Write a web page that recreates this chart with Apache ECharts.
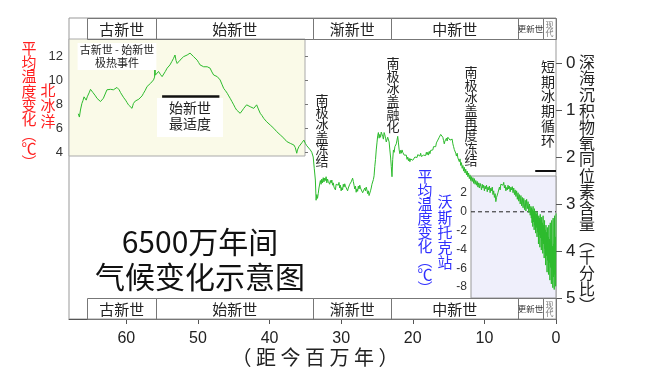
<!DOCTYPE html>
<html><head><meta charset="utf-8">
<style>html,body{margin:0;padding:0;background:#fff;}#c{width:646px;height:388px;}</style>
<script src="https://cdn.jsdelivr.net/npm/echarts@6.0.0/dist/echarts.min.js"></script>
</head><body><div id="c"></div>
<script>
// ---- data ----
const epochNames = ['古新世','始新世','渐新世','中新世','更新世','现代'];
const epochStarts = [65.5, 55.8, 33.9, 23.0, 5.3, 1.8];
const epochEnds = [55.8, 33.9, 23.0, 5.3, 1.8, 0];
const ageTicks = [60, 50, 40, 30, 20, 10, 0];
const d18OTicks = [0, 1, 2, 3, 4, 5];
const arcticTempTicks = [4, 6, 8, 10, 12];
const vostokTempTicks = [2, 0, -2, -4, -6, -8];
// annotation bars [startAge, endAge, d18O level]
const eoceneOptimumBar = [55.0, 47.0, 0.70];
const glacialCycleBar = [2.9, 0, 2.30];
// deep-sea d18O record [age Ma, permil]
const paleoEocene = [
[66.7,1.08],[66.55,1.15],[66.4,1.00],[66.2,0.86],[66.05,0.80],[65.9,0.72],[65.75,0.76],[65.6,0.79],[65.45,0.72],[65.3,0.68],
[65.15,0.62],[65.0,0.56],[64.9,0.59],[64.8,0.57],[64.65,0.63],[64.55,0.645],[64.3,0.70],[64.1,0.75],[63.85,0.79],[63.6,0.82],
[63.4,0.78],[63.2,0.75],[62.95,0.66],[62.7,0.57],[62.45,0.59],[62.2,0.56],[62.0,0.60],[61.8,0.57],[61.55,0.54],[61.3,0.52],
[61.15,0.55],[61.0,0.57],[60.8,0.63],[60.6,0.68],[60.35,0.74],[60.1,0.79],[59.9,0.84],[59.7,0.89],[59.45,0.93],[59.2,0.965],
[59.1,0.91],[59.0,0.86],[58.75,0.81],[58.5,0.79],[58.25,0.77],[58.0,0.75],[57.8,0.70],[57.6,0.645],[57.35,0.58],[57.1,0.50],
[56.85,0.47],[56.6,0.43],[56.4,0.40],[56.2,0.36],[56.05,0.30],[56.0,-0.24],[55.95,0.26],[55.75,0.22],[55.5,0.18],[55.25,0.24],
[55.0,0.29],[54.8,0.255],[54.55,0.18],[54.3,0.11],[54.1,0.08],[53.9,0.04],[53.65,-0.03],[53.4,-0.10],[53.2,-0.17],[53.05,-0.05],
[52.9,0.01],[52.7,-0.03],[52.5,-0.06],[52.25,-0.10],[52.0,-0.135],[51.75,-0.16],[51.5,-0.17],[51.3,-0.19],[51.1,-0.21],[50.85,-0.17],
[50.6,-0.135],[50.35,-0.10],[50.1,-0.06],[49.9,-0.01],[49.7,0.04],[49.45,0.06],[49.2,0.08],[49.0,0.06],[48.7,0.08],[48.5,0.10],
[48.3,0.11],[48.05,0.19],[47.8,0.255],[47.55,0.27],[47.3,0.29],[47.1,0.33],[46.9,0.36],[46.65,0.45],[46.4,0.54],[46.15,0.59],
[45.9,0.645],[45.7,0.70],[45.5,0.75],[45.25,0.82],[45.0,0.89],[44.8,0.95],[44.6,1.00],[44.35,1.04],[44.1,1.07],[43.85,1.02],
[43.6,0.965],[43.4,0.93],[43.2,0.89],[42.95,0.91],[42.7,0.93],[42.45,0.95],[42.2,0.965],[42.0,0.93],[41.8,0.89],[41.5,1.00],
[41.3,1.07],[41.05,1.12],[40.8,1.18],[40.6,1.21],[40.4,1.25],[40.15,1.28],[39.9,1.32],[39.65,1.35],[39.4,1.39],[39.2,1.43],
[39.0,1.46],[38.75,1.50],[38.5,1.53],[38.25,1.57],[38.0,1.60],[37.8,1.64],[37.6,1.67],[37.35,1.69],[37.1,1.71],[36.85,1.73],
[36.6,1.745],[36.4,1.80],[36.2,1.92],[36.1,1.85],[35.9,1.78],[35.7,1.745],[35.45,1.69],[35.3,1.66],[35.2,1.64],[35.0,1.71],
[34.8,1.76],[34.55,1.80],[34.3,1.85],[34.1,1.90],[33.9,2.00],[33.75,2.25],[33.6,2.49]
];
const oligocene = [
[33.5,2.92],[33.4,2.80],[33.3,2.88],[33.2,2.78],[33.1,2.66],[33.0,2.62],[32.9,2.50],[32.8,2.58],[32.7,2.47],[32.6,2.55],
[32.5,2.44],[32.4,2.53],[32.3,2.45],[32.2,2.50],[32.1,2.42],[32.0,2.55],[31.9,2.47],[31.8,2.52],[31.7,2.48],[31.6,2.58],
[31.5,2.50],[31.4,2.55],[31.3,2.49],[31.2,2.60],[31.1,2.55],[31.0,2.64],[30.9,2.60],[30.8,2.70],[30.7,2.58],[30.6,2.62],
[30.5,2.55],[30.4,2.60],[30.3,2.54],[30.2,2.66],[30.1,2.60],[30.0,2.72],[29.9,2.65],[29.8,2.70],[29.7,2.58],[29.6,2.64],
[29.5,2.57],[29.4,2.62],[29.3,2.66],[29.2,2.60],[29.1,2.72],[29.0,2.66],[28.9,2.70],[28.8,2.58],[28.7,2.62],[28.6,2.53],
[28.5,2.50],[28.4,2.45],[28.3,2.52],[28.2,2.60],[28.1,2.68],[28.0,2.62],[27.9,2.75],[27.8,2.68],[27.7,2.73],[27.6,2.62],
[27.5,2.68],[27.4,2.60],[27.3,2.66],[27.2,2.70],[27.1,2.63],[27.0,2.76],[26.9,2.72],[26.8,2.78],[26.7,2.66],[26.6,2.72],
[26.5,2.64],[26.4,2.70],[26.3,2.78],[26.2,2.72],[26.1,2.82],[26.0,2.78],[25.9,2.72],[25.8,2.66],[25.7,2.58],[25.6,2.60],
[25.5,2.48],[25.4,2.40],[25.3,2.20],[25.2,2.05],[25.1,1.85]
];
const earlyMiocene = [
[25.0,1.70],[24.9,1.55],[24.8,1.48],[24.7,1.60],[24.6,1.52],[24.5,1.58],[24.4,1.47],[24.3,1.44],[24.2,1.56],[24.1,1.62],
[24.0,1.48],[23.9,1.53],[23.8,1.60],[23.7,1.68],[23.6,1.72],[23.5,1.58],[23.4,1.55],[23.3,1.68],[23.2,1.85],[23.1,2.00],
[23.0,2.20],[22.9,2.42],[22.8,2.05],[22.7,1.85],[22.6,1.90],[22.5,1.78],[22.4,1.82],[22.3,1.72],[22.2,1.64],[22.1,1.56],
[22.0,1.70],[21.9,1.85],[21.8,1.93],[21.7,1.86],[21.6,1.92],[21.5,1.85],[21.4,1.90],[21.3,1.87],[21.2,1.96],[21.1,1.92],
[21.0,2.00],[20.9,1.96],[20.8,2.05],[20.7,2.00],[20.6,2.08],[20.5,2.03],[20.4,2.10],[20.3,2.04],[20.2,2.08],[20.1,2.02],
[20.0,2.07],[19.9,2.03],[19.8,2.08],[19.7,2.00],[19.6,2.04],[19.5,1.97],[19.4,2.01],[19.3,1.95],[19.2,1.99],[19.1,1.94],
[19.0,1.98],[18.9,1.92],[18.8,1.99],[18.7,1.95],[18.6,2.02],[18.5,1.96],[18.4,2.00],[18.3,1.93],[18.2,1.97],[18.1,1.90],
[18.0,1.95],[17.9,1.90],[17.8,1.96],[17.7,1.88],[17.6,1.93],[17.5,1.86],[17.4,1.88],[17.3,1.82],[17.2,1.85],[17.1,1.78],
[17.0,1.80],[16.9,1.74],[16.8,1.78],[16.7,1.70],[16.6,1.72],[16.5,1.64],[16.4,1.68],[16.3,1.58],[16.2,1.62],[16.1,1.52],
[16.0,1.56],[15.9,1.48],[15.8,1.58],[15.7,1.65],[15.6,1.72],[15.5,1.66],[15.4,1.70],[15.3,1.60],[15.2,1.66],[15.1,1.58],
[15.0,1.62],[14.9,1.56],[14.8,1.64],[14.7,1.60],[14.6,1.66],[14.5,1.62],[14.4,1.72],[14.3,1.78],[14.2,1.84],[14.1,1.88]
];
const lateMiocene = [
[14.0,1.92],[13.9,1.98],[13.8,1.92],[13.7,2.02],[13.6,1.98],[13.5,2.10],[13.4,2.04],[13.3,2.18],[13.2,2.12],[13.1,2.24],
[13.0,2.18],[12.9,2.30],[12.8,2.22],[12.7,2.34],[12.6,2.26],[12.5,2.38],[12.4,2.30],[12.3,2.42],[12.2,2.34],[12.1,2.46],
[12.0,2.38],[11.9,2.50],[11.8,2.42],[11.7,2.52],[11.6,2.44],[11.5,2.56],[11.4,2.46],[11.3,2.58],[11.2,2.50],[11.1,2.60],
[11.0,2.52],[10.9,2.64],[10.8,2.55],[10.7,2.66],[10.6,2.56],[10.5,2.62],[10.4,2.70],[10.3,2.58],[10.2,2.66],[10.1,2.60],
[10.0,2.72],[9.9,2.62],[9.8,2.68],[9.7,2.60],[9.6,2.74],[9.5,2.64],[9.4,2.70],[9.3,2.62],[9.2,2.76],[9.1,2.66],
[9.0,2.72],[8.9,2.64],[8.8,2.80],[8.7,2.72],[8.6,2.86],[8.5,2.78],[8.4,2.95],[8.3,2.86],[8.2,2.90],[8.1,2.76],
[8.0,2.72],[7.9,2.64],[7.8,2.70],[7.7,2.58],[7.6,2.62],[7.5,2.55],[7.4,2.60],[7.3,2.54],[7.2,2.66],[7.1,2.60],
[7.0,2.72],[6.9,2.65],[6.8,2.70],[6.7,2.60],[6.6,2.68],[6.5,2.62],[6.4,2.74],[6.3,2.64],[6.2,2.70],[6.1,2.63],
[6.0,2.76],[5.9,2.66],[5.8,2.80],[5.7,2.70],[5.6,2.84],[5.5,2.72],[5.4,2.90],[5.3,2.76],[5.2,2.94],[5.1,2.80],
[5.0,3.00],[4.9,2.82],[4.8,3.04],[4.7,2.86],[4.6,3.08],[4.5,2.88],[4.4,3.12],[4.3,2.92],[4.2,3.15],[4.1,2.90],
[4.0,3.10],[3.9,2.95],[3.8,3.18],[3.7,3.00],[3.6,3.24],[3.5,3.05]
];
const plioPleistocene = [
[3.45,3.30],[3.40,3.08],[3.35,3.40],[3.30,3.12],[3.25,3.48],[3.20,3.05],[3.15,3.38],[3.10,3.15],[3.05,3.55],[3.00,3.10],
[2.95,3.45],[2.90,3.20],[2.85,3.62],[2.80,3.15],[2.75,3.50],[2.70,3.22],[2.65,3.70],[2.60,3.18],[2.55,3.60],[2.50,3.28],
[2.45,3.85],[2.40,3.25],[2.35,3.66],[2.30,3.30],[2.25,3.92],[2.20,3.22],[2.15,3.72],[2.10,3.35],[2.05,3.98],[2.00,3.28],
[1.95,3.78],[1.90,3.40],[1.85,4.05],[1.80,3.25],[1.75,3.85],[1.70,3.45],[1.65,4.15],[1.60,3.35],[1.55,3.95],[1.50,3.55],
[1.45,4.30],[1.40,3.45],[1.35,4.10],[1.30,3.60],[1.25,4.45],[1.20,3.50],[1.15,4.20],[1.10,3.70],[1.05,4.50],[1.00,3.45],
[0.95,4.25],[0.90,3.75],[0.85,4.62],[0.80,3.40],[0.75,4.35],[0.70,3.80],[0.65,4.70],[0.60,3.35],[0.55,4.40],[0.50,3.90],
[0.45,4.78],[0.40,3.30],[0.35,4.55],[0.30,3.85],[0.25,4.82],[0.20,3.25],[0.15,4.50],[0.10,3.70],[0.05,4.75],[0.00,3.20]
];

// ---- chart ----
const CJK = '"Noto Sans CJK SC", "Noto Sans", sans-serif';
const NUM = '"Liberation Sans", Arial, sans-serif';
const vert = s => s.split('').join('\n');
const curve = [].concat(paleoEocene, oligocene, earlyMiocene, lateMiocene, plioPleistocene);
const epochData = [];
for (let r = 0; r < 2; r++) for (let i = 0; i < epochNames.length; i++) epochData.push([epochStarts[i], epochEnds[i], i, r]);

const AGE_MAX = 68;
const hiddenX = (g, min, max) => ({type:'value', gridIndex:g, min:min, max:max, inverse:true, show:false});
const hiddenY = (g) => ({type:'value', gridIndex:g, min:0, max:1, show:false});

const chart = echarts.init(document.getElementById('c'), null, {renderer:'canvas'});
chart.setOption({
  animation:false,
  backgroundColor:'#fff',
  grid:[
    {left:69, top:18, width:487, height:301, show:true, borderColor:'#999', borderWidth:1, backgroundColor:'transparent', z:0},
    {left:69, top:39, width:236, height:117, show:true, borderColor:'#aaa', borderWidth:1, backgroundColor:'#fafae8', z:0},
    {left:69, top:56, width:236, height:96},
    {left:471, top:176, width:85, height:122, show:true, borderColor:'#999', borderWidth:1, backgroundColor:'#efeffb', z:0},
    {left:471, top:193, width:85, height:94},
    {left:69, top:63, width:487, height:235}
  ],
  xAxis:[
    {type:'value', gridIndex:0, min:0, max:AGE_MAX, interval:10, inverse:true,
     axisLine:{lineStyle:{color:'#555', width:1}},
     axisTick:{show:true, length:5, lineStyle:{color:'#555'}},
     axisLabel:{fontSize:16, color:'#222', fontFamily:NUM, margin:12, showMaxLabel:false,
       formatter: v => ageTicks.indexOf(v) >= 0 ? String(v) : ''},
     splitLine:{show:false}},
    hiddenX(1, 0, AGE_MAX), hiddenX(2, 0, AGE_MAX), hiddenX(3, 0, AGE_MAX),
    {type:'value', gridIndex:4, min:0, max:1, show:false},
    hiddenX(5, 0, AGE_MAX)
  ],
  yAxis:[
    hiddenY(0), hiddenY(1),
    {type:'value', gridIndex:2, min:4, max:12, interval:2, position:'left',
     axisLine:{show:false}, axisTick:{show:true, inside:true, length:3, lineStyle:{color:'#777'}},
     axisLabel:{fontSize:13, color:'#333', fontFamily:NUM, margin:6,
       formatter: v => arcticTempTicks.indexOf(v) >= 0 ? String(v) : ''},
     splitLine:{show:false}},
    hiddenY(3),
    {type:'value', gridIndex:4, min:-8, max:2, interval:2, position:'left',
     axisLine:{show:false}, axisTick:{show:false},
     axisLabel:{fontSize:12, color:'#333', fontFamily:NUM, margin:4,
       formatter: v => vostokTempTicks.indexOf(v) >= 0 ? String(v) : ''},
     splitLine:{show:false}},
    {type:'value', gridIndex:5, min:0, max:5, interval:1, inverse:true, position:'right',
     axisLine:{show:false}, axisTick:{show:true, length:6, lineStyle:{color:'#555'}},
     axisLabel:{fontSize:17, color:'#222', fontFamily:NUM, margin:10,
       formatter: v => d18OTicks.indexOf(v) >= 0 ? String(v) : ''},
     splitLine:{show:false}}
  ],
  series:[
    {type:'custom', xAxisIndex:0, yAxisIndex:0, data:epochData, encode:{x:[0,1]}, silent:true, z:5,
     renderItem:(params, api) => {
       const cs = params.coordSys;
       const s = api.coord([api.value(0), 0])[0];
       const e = api.coord([api.value(1), 0])[0];
       const h = 21;
       const y = api.value(3) === 0 ? cs.y : cs.y + cs.height - h;
       const x0 = Math.min(s, e), w = Math.abs(e - s);
       const name = epochNames[api.value(2)];
       let txt;
       if (w < 18) txt = {text:vert(name), font:'8px ' + CJK, lineHeight:8, fill:'#777'};
       else if (w < 40) txt = {text:name, font:'8.5px ' + CJK, fill:'#333'};
       else txt = {text:name, font:'15px ' + CJK, fill:'#222'};
       return {type:'group', children:[
         {type:'rect', shape:{x:Math.round(x0)+0.5, y:y+0.5, width:Math.round(w), height:h}, style:{fill:'none', stroke:'#777', lineWidth:1}},
         {type:'text', style:Object.assign({x:x0 + w/2, y:y + h/2 + 0.5, align:'center', verticalAlign:'middle'}, txt)}
       ]};
     }},
    {type:'line', name:'vostokZero', xAxisIndex:4, yAxisIndex:4, data:[[0,0],[1,0]], showSymbol:false, silent:true, z:3,
     lineStyle:{color:'#222', width:1, type:[4,3]}},
    {type:'line', name:'d18O', xAxisIndex:5, yAxisIndex:5, data:curve, clip:false, showSymbol:false, silent:true, z:4,
     lineStyle:{color:'#2dbb2d', width:1},
     markLine:{silent:true, symbol:['none','none'], label:{show:false},
       data:[
         [{coord:[eoceneOptimumBar[0], eoceneOptimumBar[2]], lineStyle:{color:'#111', width:2.5, type:'solid'}}, {coord:[eoceneOptimumBar[1], eoceneOptimumBar[2]]}],
         [{coord:[glacialCycleBar[0], glacialCycleBar[2]], lineStyle:{color:'#111', width:2, type:'solid'}}, {coord:[glacialCycleBar[1], glacialCycleBar[2]]}]
       ]}}
  ],
  graphic:[
    {type:'text', z:10, style:{text:vert('平均温度变化︵℃︶'), x:29, y:41, align:'center', verticalAlign:'top', font:'15px ' + CJK, lineHeight:14.3, fill:'#ff2020'}},
    {type:'text', z:10, style:{text:vert('北冰洋'), x:48, y:82, align:'center', verticalAlign:'top', font:'15px ' + CJK, lineHeight:15.7, fill:'#ff2020'}},
    {type:'text', z:10, style:{text:'古新世 - 始新世\n极热事件', x:117, y:43, align:'center', verticalAlign:'top', font:'11px ' + CJK, lineHeight:12.5, fill:'#222', backgroundColor:'#fff', padding:[1,2,1,2]}},
    {type:'text', z:10, style:{text:'始新世\n最适度', x:190, y:98, align:'center', verticalAlign:'top', font:'14px ' + CJK, lineHeight:16, fill:'#222', backgroundColor:'#fff', padding:[2,12,5,12]}},
    {type:'text', z:10, style:{text:vert('南极冰盖冻结'), x:322, y:94, align:'center', verticalAlign:'top', font:'13px ' + CJK, lineHeight:12.2, fill:'#222'}},
    {type:'text', z:10, style:{text:vert('南极冰盖融化'), x:393, y:57, align:'center', verticalAlign:'top', font:'13px ' + CJK, lineHeight:12.6, fill:'#222'}},
    {type:'text', z:10, style:{text:vert('南极冰盖再度冻结'), x:471, y:66, align:'center', verticalAlign:'top', font:'13px ' + CJK, lineHeight:12.6, fill:'#222'}},
    {type:'text', z:10, style:{text:vert('短期冰期循环'), x:548, y:59, align:'center', verticalAlign:'top', font:'14px ' + CJK, lineHeight:14.8, fill:'#222'}},
    {type:'text', z:10, style:{text:vert('平均温度变化︵℃︶'), x:425, y:169, align:'center', verticalAlign:'top', font:'15px ' + CJK, lineHeight:14, fill:'#3030ff'}},
    {type:'text', z:10, style:{text:vert('沃斯托克站'), x:445, y:194, align:'center', verticalAlign:'top', font:'15px ' + CJK, lineHeight:15.2, fill:'#3030ff'}},
    {type:'text', z:10, style:{text:vert('深海沉积物氧同位素含量︵千分比︶'), x:587, y:54, align:'center', verticalAlign:'top', font:'16px ' + CJK, lineHeight:16.2, fill:'#222'}},
    {type:'text', z:10, style:{text:'6500万年间', x:200, y:242, align:'center', verticalAlign:'middle', font:'30px ' + CJK, fill:'#111'}},
    {type:'text', z:10, style:{text:'气候变化示意图', x:200, y:277, align:'center', verticalAlign:'middle', font:'30px ' + CJK, fill:'#111'}},
    {type:'text', z:10, style:{text:'（ 距 今 百 万 年 ）', x:315, y:357, align:'center', verticalAlign:'middle', font:'20px ' + CJK, fill:'#222'}}
  ]
});
</script>
</body></html>
